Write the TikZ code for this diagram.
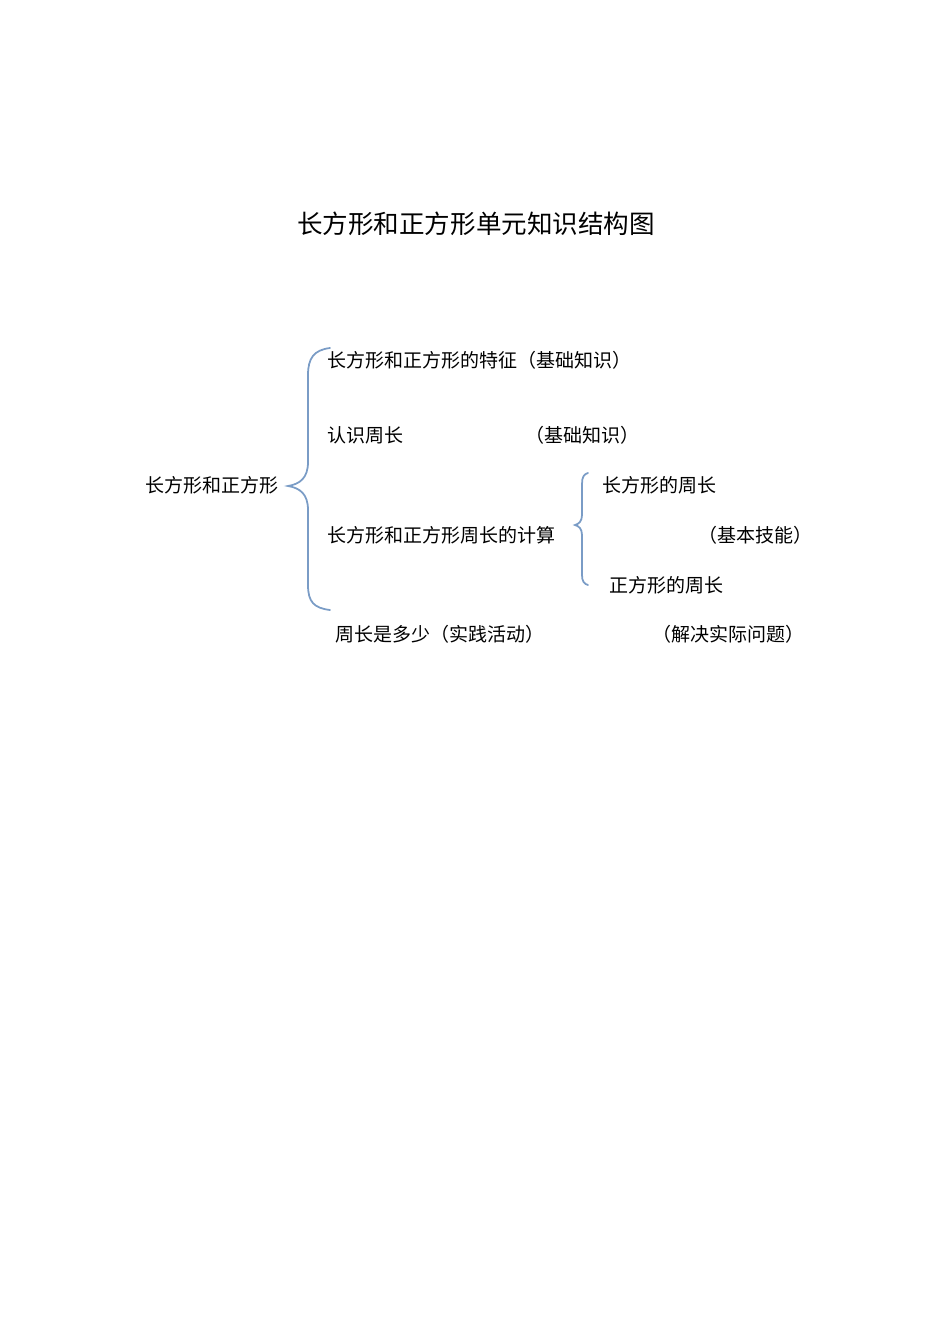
\documentclass[tikz,border=0pt]{standalone}
\usepackage{fontspec}
\newfontfamily\cjk{Noto Sans CJK SC}
\usepackage{xcolor}
\definecolor{bracecol}{HTML}{7A9CC6}

\begin{document}
\begin{tikzpicture}[x=0.6263pt, y=-0.6263pt,
    txt/.style={anchor=west, inner sep=0pt, font=\cjk\fontsize{11.9pt}{14pt}\selectfont},
    brace/.style={bracecol, line width=1.1pt, line cap=round}]
    \useasboundingbox (0,0) rectangle (950,1344);

    % Заголовок
    \node[inner sep=0pt, font=\cjk\fontsize{16pt}{19pt}\selectfont] (title) at (476,224) {长方形和正方形单元知识结构图};

    % Узлы текста в цикле
    \foreach \name/\x/\y/\txt in {root/145/485/长方形和正方形,
        A/327/360/长方形和正方形的特征（基础知识）,
        B/327/435/认识周长, Bn/525/435/（基础知识）,
        C/327/535/长方形和正方形周长的计算,
        C1/602/485/长方形的周长, Cn/698/535/（基本技能）, C2/609/585/正方形的周长,
        D/335/634/周长是多少（实践活动）, Dn/652/634/（解决实际问题）} {
        \node[txt] (\name) at (\x,\y) {\txt};
    }

    % Скобки
    \draw[brace] (330,348) .. controls (314,350) and (308,358) .. (308,375)
        -- (308,462) .. controls (308,478) and (300,484) .. (288,486)
        .. controls (300,488) and (308,494) .. (308,510)
        -- (308,585) .. controls (308,602) and (314,608) .. (330,610);
    \draw[brace] (588,473) .. controls (584,474) and (582,477) .. (582,484)
        -- (582,515) .. controls (582,521) and (579,524) .. (575,525)
        .. controls (579,526) and (582,529) .. (582,535)
        -- (582,575) .. controls (582,581) and (584,584) .. (588,585);

\end{tikzpicture}
\end{document}
